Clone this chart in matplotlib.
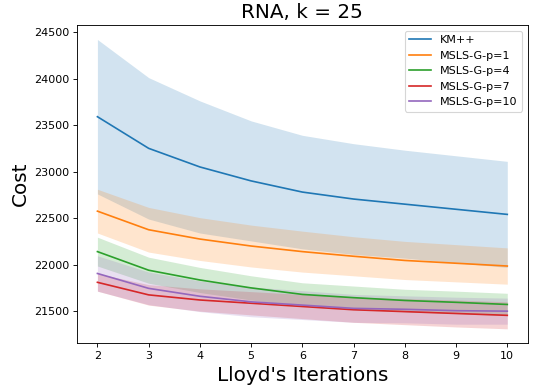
import numpy as np
import matplotlib
matplotlib.use('Agg')
import matplotlib.pyplot as plt

iters = [2, 3, 4, 5, 6, 7, 8, 9, 10]

# mean cost and spread per method
km_mean = [23590, 23250, 23050, 22900, 22780, 22705, 22650, 22595, 22540]
km_std = [830, 760, 710, 645, 610, 595, 580, 575, 570]

p1_mean = [22575, 22375, 22275, 22200, 22140, 22090, 22045, 22015, 21985]
p1_std = [235, 240, 230, 225, 220, 210, 205, 200, 195]

p4_mean = [22140, 21940, 21835, 21750, 21680, 21645, 21615, 21595, 21572]
p4_std = [155, 140, 135, 130, 125, 125, 120, 120, 120]

p7_mean = [21810, 21675, 21620, 21585, 21550, 21515, 21495, 21475, 21455]
p7_std = [95, 110, 120, 125, 130, 135, 140, 145, 145]

p10_mean = [21905, 21745, 21660, 21600, 21565, 21530, 21520, 21505, 21500]
p10_std = [190, 175, 165, 160, 155, 150, 145, 145, 140]

labels = ['KM++', 'MSLS-G-p=1', 'MSLS-G-p=4', 'MSLS-G-p=7', 'MSLS-G-p=10']
means = [km_mean, p1_mean, p4_mean, p7_mean, p10_mean]
stds = [km_std, p1_std, p4_std, p7_std, p10_std]

fig = plt.figure(figsize=(538 / 80, 391 / 80), dpi=80)
ax = fig.add_axes([0.143, 0.122, 0.838, 0.814])

for lab, m, s in zip(labels, means, stds):
    m = np.array(m)
    s = np.array(s)
    line, = ax.plot(iters, m, label=lab)
    ax.fill_between(iters, m - s, m + s, color=line.get_color(), alpha=0.2, linewidth=0)

ax.set_title('RNA, k = 25', fontsize=18)
ax.set_xlabel("Lloyd's Iterations", fontsize=18)
ax.set_ylabel('Cost', fontsize=18)
ax.set_xticks(iters)
ax.legend(loc='upper right')

fig.savefig('out.png', dpi=80)
